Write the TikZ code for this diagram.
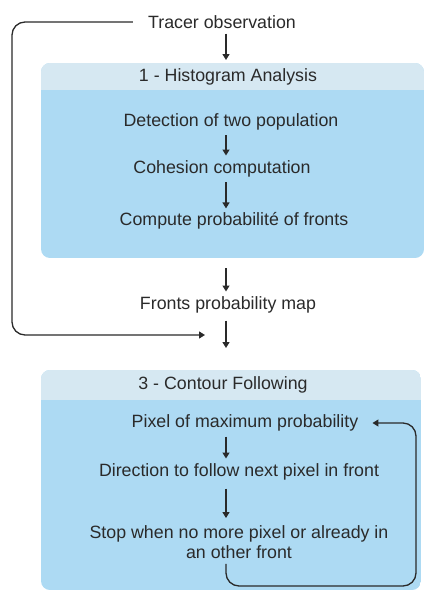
\documentclass[tikz,border=0pt]{standalone}
\usepackage{fontspec}
\setmainfont{Liberation Sans}
\usetikzlibrary{arrows.meta,calc}
\definecolor{headcol}{HTML}{D6E8F2}
\definecolor{bodycol}{HTML}{ADDAF3}
\definecolor{inkcol}{HTML}{2A2A2A}
\begin{document}
\begin{tikzpicture}[x=1pt,y=-1pt,
  txt/.style={inner sep=0pt, text=inkcol, font=\fontsize{17.8}{20.5}\selectfont},
  arr/.style={draw=inkcol, line width=1.3pt, -{Triangle[length=6pt,width=7pt]}},
  loop/.style={draw=inkcol, line width=1.3pt, rounded corners=13pt, -{Triangle[length=6pt,width=7pt]}},
  panel/.style={rounded corners=9pt}
]
\useasboundingbox (0,0) rectangle (425,592);

% panel 1
\begin{scope}
  \clip[panel] (41,63) rectangle (424,258);
  \fill[bodycol] (41,63) rectangle (424,258);
  \fill[headcol] (41,63) rectangle (424,90);
\end{scope}
% panel 3
\begin{scope}
  \clip[panel] (41,370) rectangle (421,590);
  \fill[bodycol] (41,370) rectangle (421,590);
  \fill[headcol] (41,370) rectangle (421,400);
\end{scope}

\coordinate (ax) at (226,0);

\node[txt] (tracer) at (222,22) {Tracer observation};
\node[txt] (h1) at (228,77) {1 - Histogram Analysis};
\node[txt] (det) at (231,122) {Detection of two population};
\node[txt] (coh) at (222,169) {Cohesion computation};
\node[txt] (comp) at (234,221) {Compute probabilit\'e of fronts};
\node[txt] (map) at (228,305) {Fronts probability map};
\node[txt] (h3) at (223,385) {3 - Contour Following};
\node[txt] (pix) at (245,423) {Pixel of maximum probability};
\node[txt] (dir) at (239,472) {Direction to follow next pixel in front};
\node[txt, align=center] (stop) at (239,542) {Stop when no more pixel or already in\\an other front};

\coordinate (b1top) at (226,63);
\coordinate (b1bot) at (226,258);
\coordinate (b3top) at (226,370);

\draw[arr, shorten <=5pt, shorten >=3pt] (tracer.south -| ax) -- (b1top);
\draw[arr, shorten <=5pt, shorten >=5pt] (det.south -| ax) -- (coh.north -| ax);
\draw[arr, shorten <=5pt, shorten >=4pt] (coh.south -| ax) -- (comp.north -| ax);
\draw[arr, shorten <=10pt, shorten >=5pt] (b1bot) -- (map.north -| ax);
\draw[arr, shorten <=7pt, shorten >=22pt] (map.south -| ax) -- (b3top);
\draw[arr, shorten <=5pt, shorten >=5pt] (pix.south -| ax) -- (dir.north -| ax);
\draw[arr, shorten <=8pt, shorten >=7pt] (dir.south -| ax) -- (stop.north -| ax);

\coordinate (fbend) at (205,335);
\draw[loop, shorten <=15pt] (tracer.west) -- (12,22) -- (12,335) -- (fbend);
\draw[loop, shorten >=14pt] (stop.south -| ax) ++(0,5) -- (226,586) -- (416,586) -- (416,423) -- (pix.east);
\end{tikzpicture}
\end{document}
